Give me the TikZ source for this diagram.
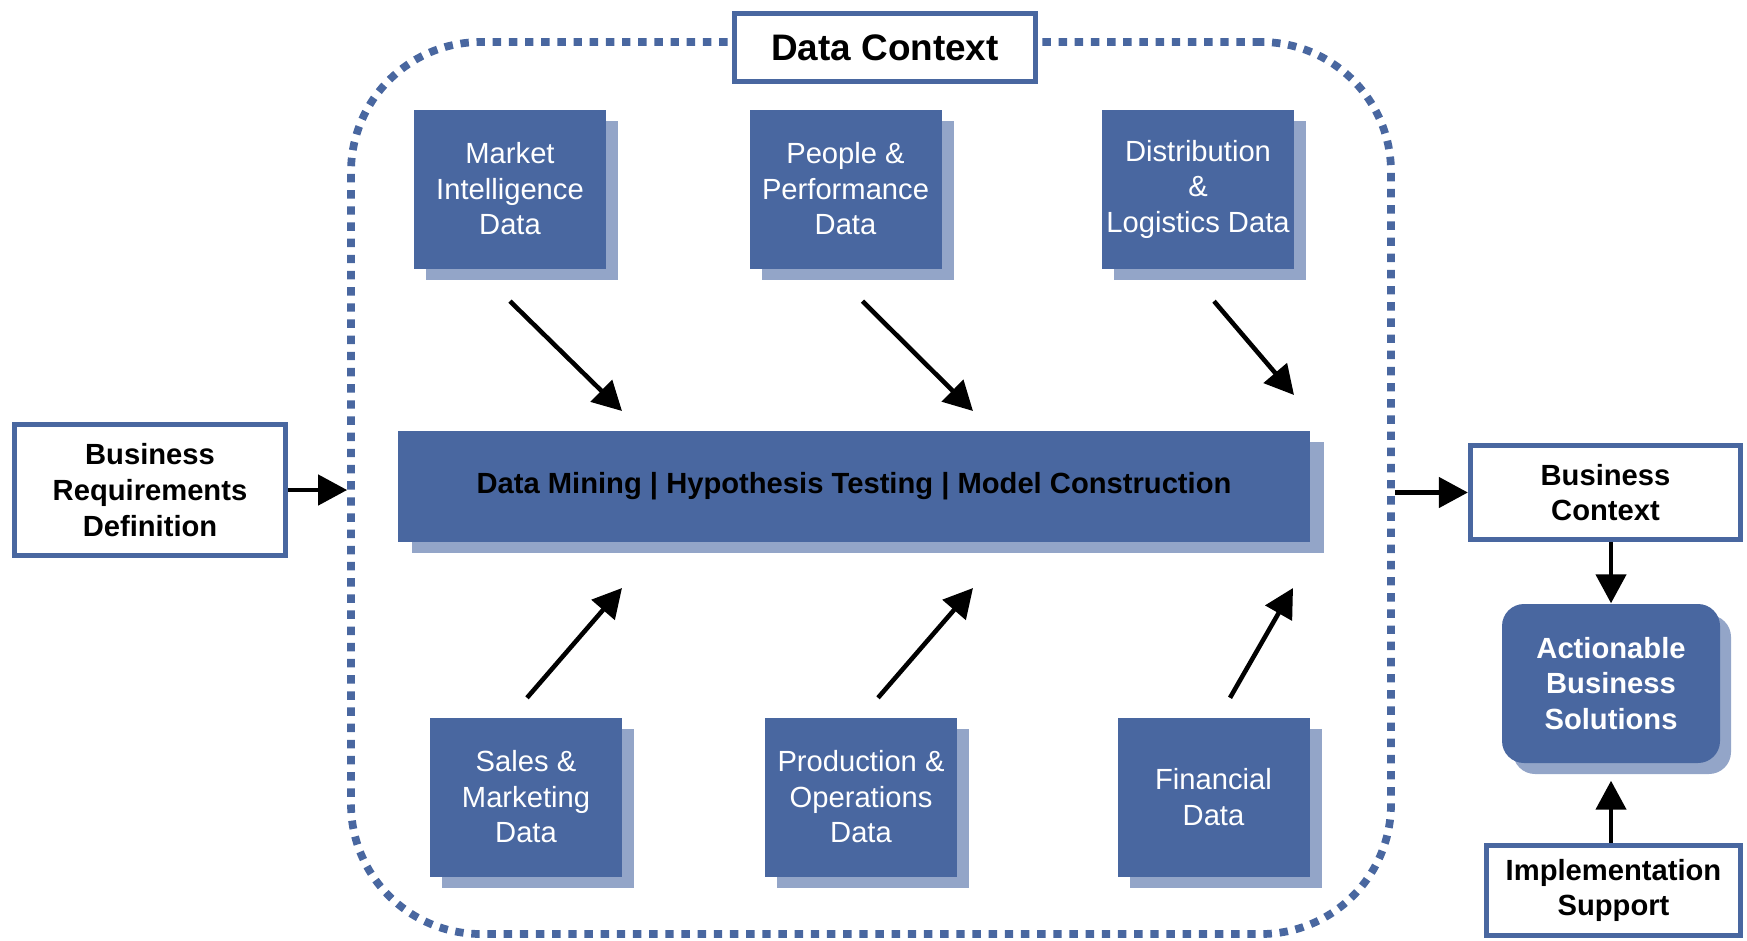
\documentclass[tikz,border=0pt]{standalone}
\usepackage{fontspec}
\setmainfont{Liberation Sans}
\usetikzlibrary{arrows.meta,shadows}
\definecolor{blu}{RGB}{73,103,160}
\definecolor{blusoft}{RGB}{147,165,200}
\tikzset{
  src/.style={fill=blu,text=white,inner sep=0pt,align=center,
    minimum width=19.2mm,minimum height=15.9mm,
    font=\fontsize{8.3}{10.1}\selectfont,
    drop shadow={shadow xshift=1.2mm,shadow yshift=-1.1mm,fill=blusoft,opacity=1}},
  core/.style={fill=blu,inner sep=0pt,minimum width=91.2mm,minimum height=11.1mm,
    font=\fontsize{8.3}{10.1}\selectfont\bfseries,
    drop shadow={shadow xshift=1.4mm,shadow yshift=-1.1mm,fill=blusoft,opacity=1}},
  ctxbox/.style={draw=blu,line width=1.5pt,fill=white,inner sep=0pt,align=center,
    font=\fontsize{8.3}{10.2}\selectfont\bfseries},
  sol/.style={fill=blu,text=white,rounded corners=2.2mm,inner sep=0pt,align=center,
    minimum width=21.8mm,minimum height=15.9mm,
    font=\fontsize{8.3}{10.1}\selectfont\bfseries,
    drop shadow={shadow xshift=1.1mm,shadow yshift=-1.1mm,fill=blusoft,opacity=1}},
  dots/.style={draw=blu,line width=2.2pt,dash pattern=on 2.4pt off 2.2pt},
  arr/.style={-{Triangle[length=2.9mm,width=3mm]},line width=1.3pt},
}

\begin{document}
\begin{tikzpicture}
  \useasboundingbox (0,0) rectangle (17.47,9.40);

  % dotted data frame with its title
  \node[dots,rounded corners=13mm,minimum width=104mm,minimum height=89.2mm] (ctx) at (8.71,4.52) {};
  \node[ctxbox,minimum width=30.1mm,minimum height=6.8mm,
    font=\fontsize{10.5}{12}\selectfont\bfseries] (title) at (8.85,8.925) {Data Context};

  % data sources
  \node[src] (mi) at (5.10,7.51) {Market\\Intelligence\\Data};
  \node[src] (pp) at (8.455,7.51) {People \&\\Performance\\Data};
  \node[src] (dl) at (11.98,7.51) {Distribution\\\&\\Logistics Data};
  \node[src] (sm) at (5.26,1.43) {Sales \&\\Marketing\\Data};
  \node[src] (po) at (8.61,1.43) {Production \&\\Operations\\Data};
  \node[src] (fd) at (12.135,1.43) {Financial\\Data};

  \node[core] (mine) at (8.54,4.54) {Data Mining | Hypothesis Testing | Model Construction};

  \coordinate (in1) at (6.22,5.29);
  \coordinate (in2) at (9.73,5.29);
  \coordinate (in3) at (12.94,5.45);
  \coordinate (in4) at (6.22,3.52);
  \coordinate (in5) at (9.73,3.52);
  \coordinate (in6) at (12.93,3.52);

  \draw[arr] ([yshift=-3.2mm]mi.south) -- (in1);
  \draw[arr] ([xshift=1.7mm,yshift=-3.2mm]pp.south) -- (in2);
  \draw[arr] ([xshift=1.6mm,yshift=-3.2mm]dl.south) -- (in3);
  \draw[arr] ([xshift=0.1mm,yshift=1.9mm]sm.north) -- (in4);
  \draw[arr] ([xshift=1.7mm,yshift=1.9mm]po.north) -- (in5);
  \draw[arr] ([xshift=1.65mm,yshift=1.9mm]fd.north) -- (in6);

  % requirements in, context and solutions out
  \node[ctxbox,minimum width=27.1mm,minimum height=13.1mm] (brd) at (1.50,4.50)
    {Business\\Requirements\\Definition};
  \node[ctxbox,minimum width=27mm,minimum height=9.4mm] (bc) at (16.055,4.475)
    {Business\\Context};
  \node[sol] (abs) at (16.11,2.565) {Actionable\\Business\\Solutions};
  \node[ctxbox,minimum width=25.4mm,minimum height=9mm] (impl) at (16.135,0.495)
    {Implementation\\Support};

  \draw[arr] (brd.east) -- (ctx.west |- brd.east);
  \draw[arr] (ctx.east |- bc.west) -- (bc.west);
  \draw[arr] (abs.north |- bc.south) -- (abs.north);
  \draw[arr,shorten >=1.7mm] (abs.south |- impl.north) -- (abs.south);
\end{tikzpicture}
\end{document}
